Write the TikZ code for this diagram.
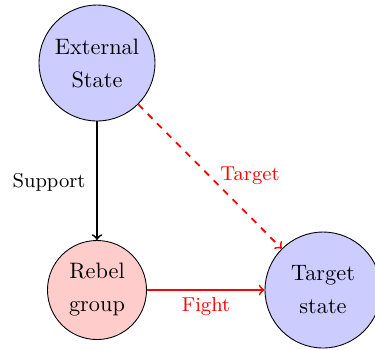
\documentclass[tikz,border=0pt]{standalone}
\begin{document}
\begin{tikzpicture}[x=0.4484pt, y=-0.4484pt,
  statenode/.style={circle, draw, thin, fill=blue!20, minimum size=52pt, inner sep=0pt, align=center},
  rebelnode/.style={circle, draw, thin, fill=red!20, minimum size=44.4pt, inner sep=0pt, align=center},
  conn/.style={thick, ->},
  lbl/.style={font=\small}]
  \useasboundingbox (0,0) rectangle (375,349);
  % actors
  \node[statenode] (ext) at (97,63) {External\\[2.8pt]State};
  \node[rebelnode] (reb) at (97,290) {Rebel\\[2.8pt]group};
  \node[statenode] (tgt) at (323,290) {Target\\[2.8pt]state};
  % relations
  \draw[conn] (ext) -- (reb);
  \draw[conn, red, dashed] (ext) -- (tgt);
  \draw[conn, red] (reb) -- (tgt);
  % relation labels
  \node[lbl] (sup) at (49,182) {Support};
  \node[lbl, text=red] (tl) at (250,176) {Target};
  \node[lbl, text=red] (fl) at (206,307) {Fight};
\end{tikzpicture}
\end{document}
